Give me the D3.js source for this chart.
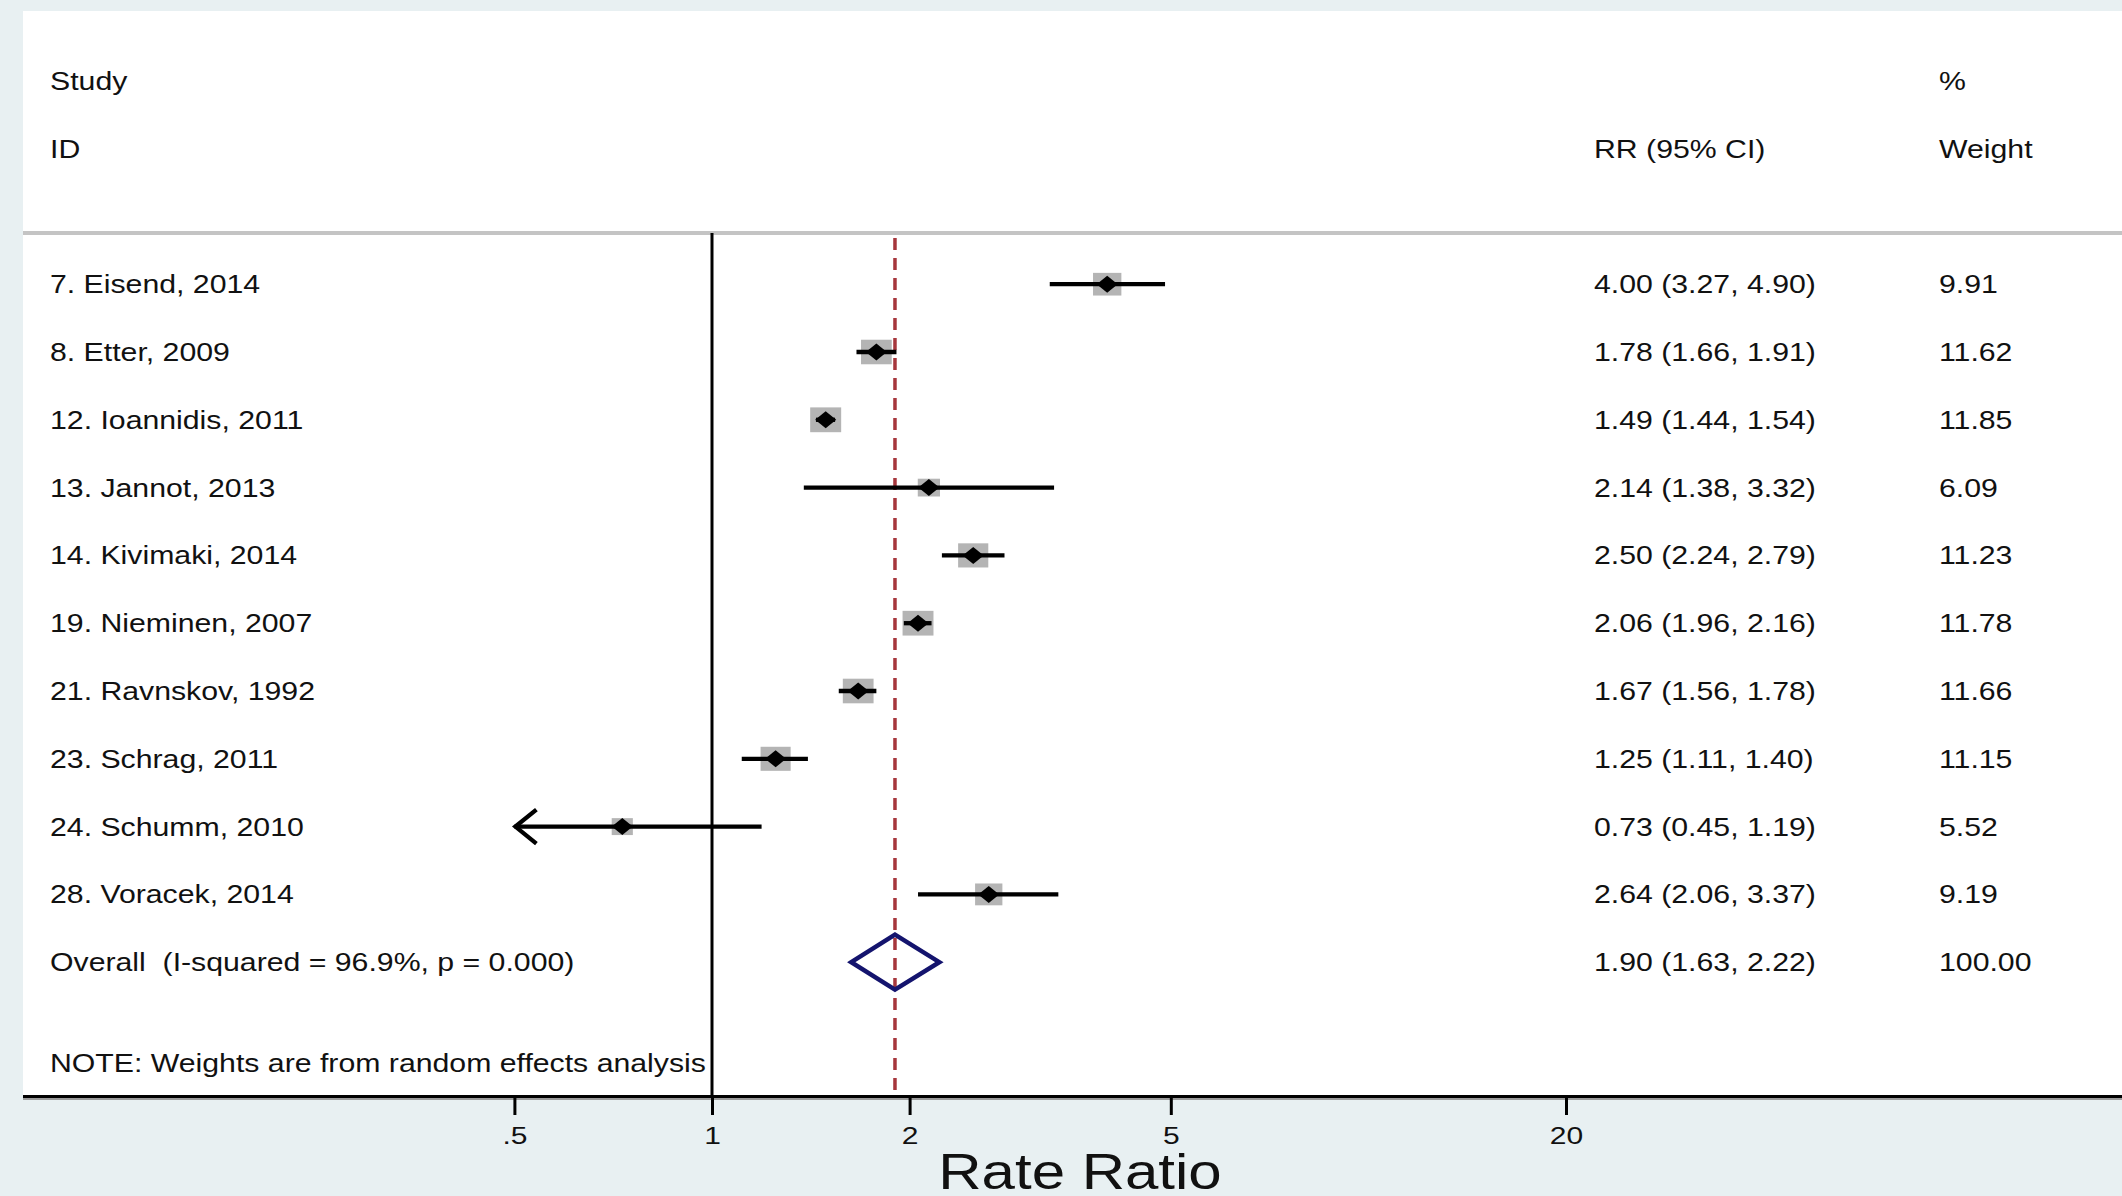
<!DOCTYPE html>
<html>
<head>
<meta charset="utf-8">
<script src="https://cdn.jsdelivr.net/npm/d3@7"></script>
<style>
  html, body { margin: 0; padding: 0; background: #e8f0f2; }
  svg { display: block; }
  text { font-family: "Liberation Sans", Arial, Helvetica, sans-serif; fill: #111; white-space: pre; }
</style>
</head>
<body>
<script>
// ---------- data ----------
const studies = ["7. Eisend, 2014", "8. Etter, 2009", "12. Ioannidis, 2011", "13. Jannot, 2013",
  "14. Kivimaki, 2014", "19. Nieminen, 2007", "21. Ravnskov, 1992", "23. Schrag, 2011",
  "24. Schumm, 2010", "28. Voracek, 2014"];
const rr     = [4.00, 1.78, 1.49, 2.14, 2.50, 2.06, 1.67, 1.25, 0.73, 2.64];
const lower  = [3.27, 1.66, 1.44, 1.38, 2.24, 1.96, 1.56, 1.11, 0.45, 2.06];
const upper  = [4.90, 1.91, 1.54, 3.32, 2.79, 2.16, 1.78, 1.40, 1.19, 3.37];
const weights = [9.91, 11.62, 11.85, 6.09, 11.23, 11.78, 11.66, 11.15, 5.52, 9.19];
const overallLabel = "Overall  (I-squared = 96.9%, p = 0.000)";
const overallRR = 1.90, overallLower = 1.63, overallUpper = 2.22, overallWeight = 100.00;
const tickValues = [0.5, 1, 2, 5, 20];
const tickLabels = [".5", "1", "2", "5", "20"];
const noteText = "NOTE: Weights are from random effects analysis";
const axisTitle = "Rate Ratio";

// ---------- layout ----------
const W = 2122, H = 1196;
const SX = 1.2; // horizontal stretch of the text
const svg = d3.select("body").append("svg").attr("width", W).attr("height", H);

svg.append("rect").attr("width", W).attr("height", H).attr("fill", "#e8f0f2");
svg.append("rect").attr("x", 23).attr("y", 11).attr("width", W - 23).attr("height", 1096 - 11).attr("fill", "#ffffff");

const x = d3.scaleLog().domain([0.5, 20]).range([514.4, 1566]);
const y = d3.scaleLinear().domain([-3, 12]).range([80.8, 1097.8]);
const boxW = d3.scaleSqrt().domain([0, 11.85]).range([0, 31]);
const fmt = d3.format(".2f");

function label(g, txt, px, py, size, anchor) {
  const t = g.append("g").attr("transform", `translate(${px},${py}) scale(${SX},1)`)
    .append("text").attr("font-size", size).attr("text-anchor", anchor || "start").text(txt);
  return t;
}

// header separator
svg.append("line").attr("x1", 23).attr("x2", W).attr("y1", 233).attr("y2", 233)
  .attr("stroke", "#c4c4c4").attr("stroke-width", 4);

// headers
const FS = 25.2;
const OFF = 9;
const base = v => y(v) + OFF;
label(svg, "Study", 50, base(-3), FS);
label(svg, "ID", 50, base(-2), FS);
label(svg, "RR (95% CI)", 1594, base(-2), FS);
label(svg, "%", 1939, base(-3), FS);
label(svg, "Weight", 1939, base(-2), FS);

// null line at 1
svg.append("line").attr("x1", x(1)).attr("x2", x(1)).attr("y1", 233).attr("y2", 1096)
  .attr("stroke", "#000").attr("stroke-width", 3);

// overall dashed line
svg.append("line").attr("x1", x(overallRR)).attr("x2", x(overallRR)).attr("y1", 238).attr("y2", 1096)
  .attr("stroke", "#a6363c").attr("stroke-width", 3.5).attr("stroke-dasharray", "12,8");

// study rows
const rows = studies.map((s, i) => ({ s, i, rr: rr[i], lo: lower[i], hi: upper[i], w: weights[i] }));
const g = svg.append("g");
rows.forEach(d => {
  const cy = y(d.i);
  const bw = boxW(d.w), bh = bw * 0.8;
  g.append("rect").attr("x", x(d.rr) - bw / 2).attr("y", cy - bh / 2).attr("width", bw).attr("height", bh)
    .attr("fill", "#b4b4b4");
  const lo = Math.max(d.lo, 0.5);
  g.append("line").attr("x1", x(lo)).attr("x2", x(Math.min(d.hi, 20))).attr("y1", cy).attr("y2", cy)
    .attr("stroke", "#000").attr("stroke-width", 4.3);
  if (d.lo < 0.5) {
    const ax = x(0.5);
    g.append("path").attr("d", `M${ax + 22},${cy - 17} L${ax + 1},${cy} L${ax + 22},${cy + 17}`)
      .attr("fill", "none").attr("stroke", "#000").attr("stroke-width", 4.3);
  }
  const cx = x(d.rr);
  g.append("path").attr("d", `M${cx - 10.5},${cy} L${cx},${cy - 8.5} L${cx + 10.5},${cy} L${cx},${cy + 8.5} Z`)
    .attr("fill", "#000");
  label(g, d.s, 50, cy + OFF, FS);
  label(g, `${fmt(d.rr)} (${fmt(d.lo)}, ${fmt(d.hi)})`, 1594, cy + OFF, FS);
  label(g, fmt(d.w), 1939, cy + OFF, FS);
});

// overall diamond
const oy = y(10);
svg.append("path")
  .attr("d", `M${x(overallLower)},${oy} L${x(overallRR)},${oy - 27.5} L${x(overallUpper)},${oy} L${x(overallRR)},${oy + 27.5} Z`)
  .attr("fill", "none").attr("stroke", "#14146e").attr("stroke-width", 4.5).attr("stroke-linejoin", "miter");
label(svg, overallLabel, 50, oy + OFF, FS);
label(svg, `${fmt(overallRR)} (${fmt(overallLower)}, ${fmt(overallUpper)})`, 1594, oy + OFF, FS);
label(svg, fmt(overallWeight), 1939, oy + OFF, FS);

// note
label(svg, noteText, 50, y(11.48) + OFF, FS);

// axis
svg.append("line").attr("x1", 23).attr("x2", W).attr("y1", 1099).attr("y2", 1099)
  .attr("stroke", "#9a9a9a").attr("stroke-width", 2);
svg.append("line").attr("x1", 23).attr("x2", W).attr("y1", 1096.5).attr("y2", 1096.5)
  .attr("stroke", "#000").attr("stroke-width", 3);

const axis = d3.axisBottom(x).tickValues(tickValues)
  .tickFormat((v, i) => tickLabels[i]).tickSize(19).tickPadding(6);
const ag = svg.append("g").attr("transform", "translate(0,1096)").call(axis);
ag.select(".domain").remove();
ag.selectAll(".tick line").attr("stroke", "#000").attr("stroke-width", 3);
ag.selectAll(".tick text").each(function () {
  const t = d3.select(this);
  t.attr("font-size", 24).attr("fill", "#111").attr("dy", null).attr("y", null)
   .attr("font-family", '"Liberation Sans", Arial, sans-serif')
   .attr("transform", `translate(0,48) scale(1.25,1)`);
});

// axis title
label(svg, axisTitle, 1080, 1189, 50, "middle");
</script>
</body>
</html>
